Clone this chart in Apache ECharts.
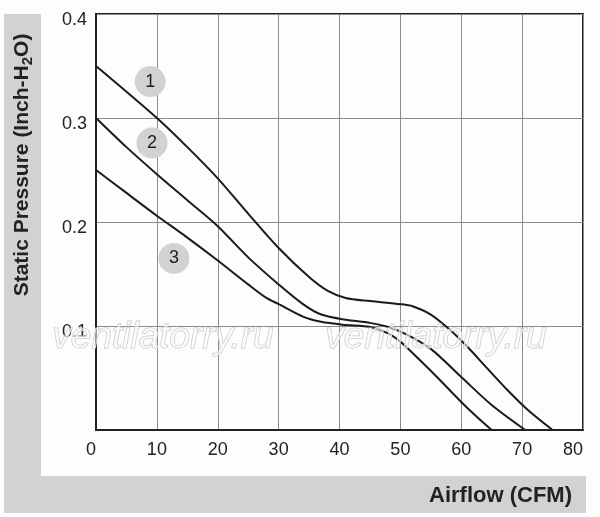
<!DOCTYPE html>
<html>
<head>
<meta charset="UTF-8" />
<script type="text/javascript" src="https://cdn.jsdelivr.net/npm/echarts@6/dist/echarts.min.js"></script>
<title>Static Pressure vs Airflow</title>
<style>
	html, body { margin: 0; padding: 0; background: #fdfdfc; }
	#main { width: 600px; height: 517px; }
</style>
</head>
<body>
<div id="main"></div>
<script type="text/javascript">
	// airflow (CFM), static pressure (inch H2O)
	var curve1 = [[0,0.350],[10,0.300],[15,0.272],[20,0.242],[25,0.208],[30,0.175],[35,0.147],[38,0.134],
		[41,0.127],[45,0.124],[50,0.121],[52,0.119],[55,0.111],[58,0.097],[61,0.080],[64,0.061],[67.5,0.039],[71,0.019],[75,0]]
	var curve2 = [[0,0.300],[5,0.272],[10,0.246],[15,0.221],[20,0.196],[25,0.166],[30,0.140],[34,0.121],
		[37,0.111],[41,0.106],[45,0.103],[48,0.099],[51,0.092],[55,0.078],[60,0.051],[65,0.024],[70.5,0]]
	var curve3 = [[0,0.250],[5,0.228],[10,0.206],[15,0.185],[20,0.163],[25,0.140],[28,0.127],[30,0.121],
		[34,0.109],[37,0.104],[41,0.101],[45,0.099],[48,0.093],[50,0.085],[52,0.074],[56,0.051],[60,0.027],[62.5,0.013],[65,0]]
	// numbered badges next to the curves
	var badges = [[8.9,0.335,'1'],[9.2,0.276,'2'],[12.8,0.165,'3']]
	var xTicks = { min: 0, max: 80, step: 10 }
	var yTicks = { min: 0, max: 0.4, step: 0.1 }

	var font = "'Liberation Sans', Arial, sans-serif"
	var myChart = echarts.init(document.getElementById('main'))

	function curve(d) {
		return {
			type: 'line',
			data: d,
			smooth: 0.3,
			symbol: 'none',
			z: 3,
			lineStyle: { color: '#1b1b1b', width: 2 }
		}
	}

	function watermark(x) {
		return {
			type: 'text', x: x, y: 338, z: 100,
			style: {
				text: 'ventilatorry.ru', align: 'center', verticalAlign: 'middle',
				fontSize: 37, fontStyle: 'italic', fontFamily: font,
				fill: 'rgba(255,255,255,0.55)', stroke: '#c6c6c6', lineWidth: 1
			}
		}
	}

	var option = {
		animation: false,
		backgroundColor: '#fdfdfc',
		grid: {
			left: 96, right: 17, top: 14, bottom: 87,
			show: true,
			backgroundColor: '#fdfdfc',
			borderColor: '#222',
			borderWidth: 2
		},
		xAxis: {
			type: 'value',
			min: xTicks.min, max: xTicks.max, interval: xTicks.step,
			axisLine: { show: true, lineStyle: { color: '#222', width: 2 } },
			axisTick: { show: false },
			axisLabel: {
				margin: 11, fontSize: 18, color: '#222', fontFamily: font,
				alignMinLabel: 'right', alignMaxLabel: 'right'
			},
			splitLine: { show: true, lineStyle: { color: '#8c8c8c', width: 1 } }
		},
		yAxis: {
			type: 'value',
			min: yTicks.min, max: yTicks.max, interval: yTicks.step,
			axisLine: { show: true, lineStyle: { color: '#222', width: 2 } },
			axisTick: { show: false },
			axisLabel: {
				margin: 9, fontSize: 18, color: '#222', fontFamily: font,
				verticalAlign: 'top', lineHeight: 12,
				formatter: function (v) { return v === 0 ? '' : v.toFixed(1) }
			},
			splitLine: { show: true, lineStyle: { color: '#8c8c8c', width: 1 } }
		},
		graphic: [
			// grey L-shaped frame behind the chart
			{ type: 'rect', z: -10, shape: { x: 4, y: 14, width: 37, height: 499 }, style: { fill: '#d1d2d4' } },
			{ type: 'rect', z: -10, shape: { x: 4, y: 476, width: 582, height: 37 }, style: { fill: '#d1d2d4' } },
			{
				type: 'text', x: 22, y: 165, rotation: Math.PI / 2,
				style: {
					text: '{a|Static Pressure (Inch-H}{b|2}{a|O)}',
					align: 'center', verticalAlign: 'middle',
					rich: {
						a: { fontSize: 21, fontWeight: 'bold', fontFamily: font, fill: '#222', lineHeight: 26, verticalAlign: 'middle' },
						b: { fontSize: 15, fontWeight: 'bold', fontFamily: font, fill: '#222', lineHeight: 26, verticalAlign: 'bottom' }
					}
				}
			},
			{
				type: 'text', x: 572, y: 496,
				style: {
					text: 'Airflow (CFM)', align: 'right', verticalAlign: 'middle',
					fontSize: 22, fontWeight: 'bold', fontFamily: font, fill: '#222'
				}
			},
			watermark(163),
			watermark(436)
		],
		series: [
			curve(curve1),
			curve(curve2),
			curve(curve3),
			{
				type: 'scatter',
				data: badges,
				symbolSize: 31,
				z: 4,
				itemStyle: { color: '#d1d2d4', opacity: 1 },
				label: {
					show: true, position: 'inside', fontSize: 18, color: '#222', fontFamily: font,
					formatter: function (p) { return p.data[2] }
				}
			}
		]
	}

	myChart.setOption(option)
</script>
</body>
</html>
